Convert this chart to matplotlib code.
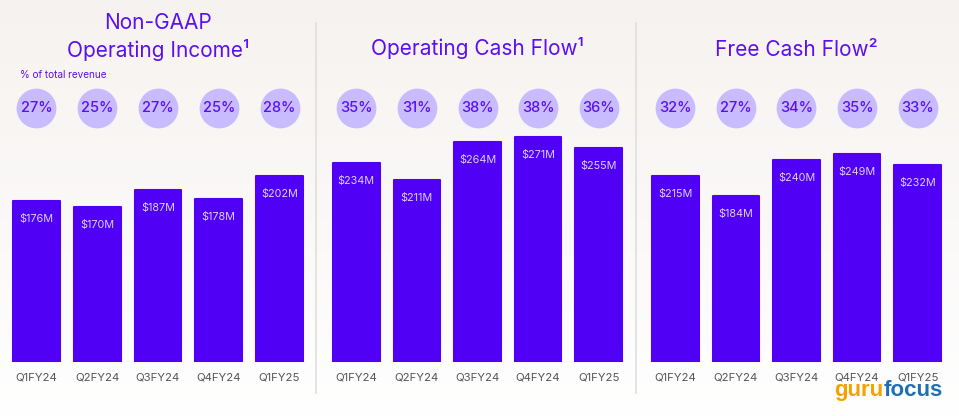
import numpy as np
import matplotlib.pyplot as plt
from matplotlib.transforms import blended_transform_factory, offset_copy

# Data
quarters = ['Q1FY24', 'Q2FY24', 'Q3FY24', 'Q4FY24', 'Q1FY25']
op_income = [176, 170, 187, 178, 202]
op_income_pct = [27, 25, 27, 25, 28]
op_cash = [234, 211, 264, 271, 255]
op_cash_pct = [35, 31, 38, 38, 36]
free_cash = [215, 184, 240, 249, 232]
free_cash_pct = [32, 27, 34, 35, 33]

purple = '#5000F5'
title_col = '#5A10F0'
circle_col = '#C8BBFF'
label_col = '#DCD0FF'

plt.rcParams['font.family'] = ['Inter', 'DejaVu Sans']

W, H = 959, 416
fig = plt.figure(figsize=(W / 100, H / 100), dpi=100)

# background gradient
bg = fig.add_axes([0, 0, 1, 1], zorder=-10)
grad = np.linspace(0, 1, 256).reshape(-1, 1)
top = np.array([0.965, 0.950, 0.940])
bot = np.array([1.0, 1.0, 1.0])
img = top + (bot - top) * grad[..., None]
bg.imshow(img, aspect='auto', extent=[0, 1, 0, 1])
bg.set_axis_off()

# separators
for xp in [316, 636]:
    bg.plot([xp / W, xp / W], [1 - 23 / H, 1 - 393 / H], color='#E2DFDB', lw=1.2)


def panel(left_px, right_px, vals, pcts, base, top_val, title_lines, title_ys):
    ax = fig.add_axes([left_px / W, 1 - 362 / H, (right_px - left_px) / W, 362 / H])
    x = np.arange(len(vals))
    v = np.array(vals, dtype=float)
    ax.bar(x, v - base, bottom=base, width=0.77, color=purple,
           edgecolor=purple, linewidth=1.5, joinstyle='round')
    ax.set_xlim(-0.5, len(vals) - 0.5)
    ax.set_ylim(base, top_val)
    ax.set_axis_off()
    for xi, vi in zip(x, vals):
        ax.annotate(f'${vi}M', (xi, vi), xytext=(0, -13), textcoords='offset points',
                    ha='center', va='center', color=label_col, fontsize=7.8)
    for xi, q in zip(x, quarters):
        ax.annotate(q, (xi, base), xytext=(0, -11), textcoords='offset points',
                    ha='center', va='center', color='#555555', fontsize=8.2,
                    annotation_clip=False)
    tr = blended_transform_factory(ax.transData, ax.transAxes)
    cy = 1 - 108 / 362
    ax.scatter(x, [cy] * len(x), s=820, color=circle_col, transform=tr,
               clip_on=False, linewidths=0)
    for xi, p in zip(x, pcts):
        ax.text(xi, cy, f'{p}%', transform=tr, ha='center', va='center',
                color=title_col, fontsize=10.5, fontweight='medium')
    cx = (left_px + right_px) / 2 / W
    for t, yp in zip(title_lines, title_ys):
        fig.text(cx, 1 - yp / H, t, ha='center', va='center', color=title_col,
                 fontsize=15)
    return ax


panel(6, 310, op_income, op_income_pct, 6.7, 387,
      ['Non-GAAP', 'Operating Income\u00b9'], [23, 50])
panel(326, 629, op_cash, op_cash_pct, -43, -43 + 362 / 0.717,
      ['Operating Cash Flow\u00b9'], [48])
panel(645, 948, free_cash, free_cash_pct, -72, 486,
      ['Free Cash Flow\u00b2'], [50])

fig.text(20 / W, 1 - 75 / H, '% of total revenue', ha='left', va='center',
         color=title_col, fontsize=7.2)

# watermark
wm_font = dict(fontsize=16, fontweight='bold', family=['Liberation Sans', 'DejaVu Sans'])
t1 = fig.text(834 / W, 1 - 396 / H, 'guru', ha='left', va='baseline',
              color='#F5A100', **wm_font)
fig.canvas.draw()
w1 = t1.get_window_extent().width
fig.text(834 / W, 1 - 396 / H, 'focus', ha='left', va='baseline', color='#1F6FB5',
         transform=offset_copy(fig.transFigure, fig=fig, x=w1 + 1, y=0, units='dots'),
         **wm_font)

fig.savefig('out.png', dpi=100)
